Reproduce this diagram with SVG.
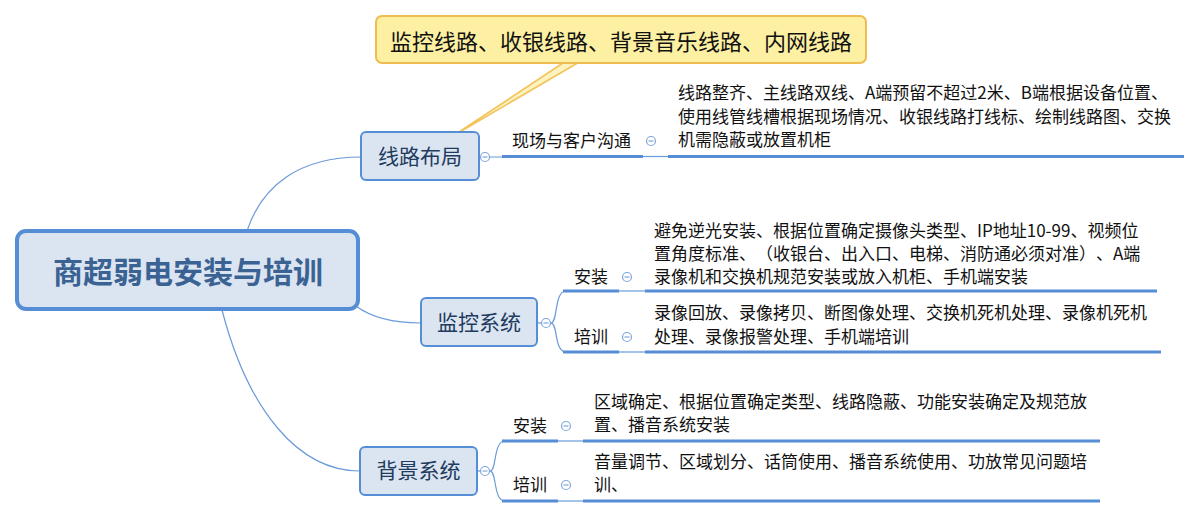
<svg xmlns="http://www.w3.org/2000/svg" width="1201" height="518" viewBox="0 0 1201 518">
<defs>
<style>
text{font-family:"Noto Sans CJK SC","Noto Sans",sans-serif;text-spacing-trim:space-all;}
.node rect{fill:#dbe5f1;stroke:#558ed5;stroke-width:2;}
.ntxt{font-size:21px;fill:#1f3b5e;text-anchor:middle;}
.txt{font-size:17px;fill:#111;}
.curve{fill:none;stroke:#6a9ad9;stroke-width:1.2;}
.thin{fill:none;stroke:#6a9ad9;stroke-width:1.2;}
.thick{fill:none;stroke:#558ed5;stroke-width:3;}
</style>
<g id="collapse">
<circle cx="0" cy="0" r="4.5" fill="#ffffff" stroke="#7fa6dd" stroke-width="1.2"/>
<line x1="-2.5" y1="0" x2="2.5" y2="0" stroke="#7fa6dd" stroke-width="1.2"/>
</g>
</defs>
<rect width="1201" height="518" fill="#fff"/>

<g id="connectors">
<path class="curve" d="M247,231 C262,185 300,157 361,157"/>
<path class="curve" d="M356,306 C372,318 392,323 421,323"/>
<path class="curve" d="M222,310 C248,410 298,471 360,471"/>
<path class="thin" d="M479,157 L481,157 M490,157 L502,157"/>
<path class="thick" d="M502,156.5 L643,156.5"/>
<path class="thin" d="M643,156.5 L668,156.5"/>
<path class="thick" d="M668,156.5 L1184,156.5"/>
<path class="thin" d="M537,323 L541,323"/>
<path class="curve" d="M551,323 C558,323 554,291 566,291"/>
<path class="curve" d="M551,323 C558,323 554,352 566,352"/>
<path class="thick" d="M563,291 L619,291"/>
<path class="thin" d="M619,291 L645,291"/>
<path class="thick" d="M645,291 L1157,291"/>
<path class="thick" d="M563,352 L619,352"/>
<path class="thin" d="M619,352 L645,352"/>
<path class="thick" d="M645,352 L1161,352"/>
<path class="thin" d="M477,471 L480,471"/>
<path class="curve" d="M490,471 C497,471 493,441 505,441"/>
<path class="curve" d="M490,471 C497,471 493,501 505,501"/>
<path class="thick" d="M502,441 L558,441"/>
<path class="thin" d="M558,441 L583,441"/>
<path class="thick" d="M583,441 L1100,441"/>
<path class="thick" d="M502,501 L558,501"/>
<path class="thin" d="M558,501 L583,501"/>
<path class="thick" d="M583,501 L1100,501"/>
</g>

<g id="collapse-buttons">
<use href="#collapse" x="485" y="157"/>
<use href="#collapse" x="651" y="141"/>
<use href="#collapse" x="546" y="323"/>
<use href="#collapse" x="627" y="277"/>
<use href="#collapse" x="627" y="337"/>
<use href="#collapse" x="485" y="471"/>
<use href="#collapse" x="566" y="426"/>
<use href="#collapse" x="566" y="485"/>
</g>

<g id="callout">
<polygon points="566,61 581,61 453,136" fill="#fdf3c0" stroke="#f3c35c" stroke-width="1.6" stroke-linejoin="round"/>
<rect x="376" y="16" width="490" height="47" rx="6" fill="#fdf0a2" stroke="#f0bb50" stroke-width="2"/>
<text x="621" y="50" font-size="22" text-anchor="middle" fill="#111">监控线路、收银线路、背景音乐线路、内网线路</text>
</g>

<g id="root">
<rect x="17" y="231" width="341" height="78" rx="9" fill="#dbe5f1" stroke="#558ed5" stroke-width="4"/>
<text x="188" y="283" font-size="30" font-weight="bold" text-anchor="middle" fill="#3a6293">商超弱电安装与培训</text>
</g>

<g id="n-xianlu" class="node">
<rect x="361" y="132" width="118" height="48" rx="5"/>
<text class="ntxt" x="420" y="164">线路布局</text>
</g>
<g id="n-jiankong" class="node">
<rect x="421" y="298" width="116" height="48" rx="5"/>
<text class="ntxt" x="479" y="330">监控系统</text>
</g>
<g id="n-beijing" class="node">
<rect x="360" y="447" width="117" height="48" rx="5"/>
<text class="ntxt" x="418.5" y="478">背景系统</text>
</g>

<g id="s-goutong">
<text class="txt" x="512" y="147">现场与客户沟通</text>
</g>
<g id="d-goutong">
<text class="txt" x="678" y="99">线路整齐、主线路双线、A端预留不超过2米、B端根据设备位置、</text>
<text class="txt" x="678" y="123">使用线管线槽根据现场情况、收银线路打线标、绘制线路图、交换</text>
<text class="txt" x="678" y="146">机需隐蔽或放置机柜</text>
</g>

<g id="s-jk-anzhuang">
<text class="txt" x="574" y="283">安装</text>
</g>
<g id="d-jk-anzhuang">
<text class="txt" x="654" y="237">避免逆光安装、根据位置确定摄像头类型、IP地址10-99、视频位</text>
<text class="txt" x="654" y="260">置角度标准、（收银台、出入口、电梯、消防通必须对准）、A端</text>
<text class="txt" x="654" y="283">录像机和交换机规范安装或放入机柜、手机端安装</text>
</g>
<g id="s-jk-peixun">
<text class="txt" x="574" y="343">培训</text>
</g>
<g id="d-jk-peixun">
<text class="txt" x="654" y="319">录像回放、录像拷贝、断图像处理、交换机死机处理、录像机死机</text>
<text class="txt" x="654" y="343">处理、录像报警处理、手机端培训</text>
</g>

<g id="s-bj-anzhuang">
<text class="txt" x="513" y="432">安装</text>
</g>
<g id="d-bj-anzhuang">
<text class="txt" x="594" y="408">区域确定、根据位置确定类型、线路隐蔽、功能安装确定及规范放</text>
<text class="txt" x="594" y="431">置、播音系统安装</text>
</g>
<g id="s-bj-peixun">
<text class="txt" x="513" y="491">培训</text>
</g>
<g id="d-bj-peixun">
<text class="txt" x="594" y="468">音量调节、区域划分、话筒使用、播音系统使用、功放常见问题培</text>
<text class="txt" x="594" y="491">训、</text>
</g>
</svg>
